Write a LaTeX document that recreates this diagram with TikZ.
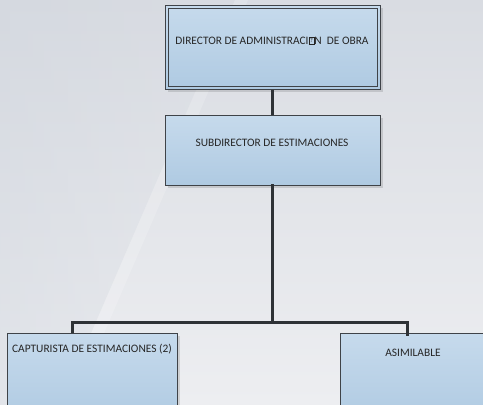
\documentclass[tikz,border=0pt]{standalone}
\usepackage{fontspec}
\setmainfont{Carlito}
\usetikzlibrary{fadings}
\definecolor{bgtop}{HTML}{D9DCE2}
\definecolor{bgbot}{HTML}{EDEEF1}
\definecolor{bgdark}{HTML}{CED4DD}
\definecolor{boxtop}{HTML}{C6DAEC}
\definecolor{boxbot}{HTML}{AFCAE2}
\definecolor{edgegray}{HTML}{3F4348}
\definecolor{linegray}{HTML}{2E3236}
\tikzset{
  orgbox/.style={draw=edgegray, line width=0.8pt, top color=boxtop, bottom color=boxbot,
    rectangle, inner sep=0pt, anchor=north west},
  boxshadow/.style={fill=black, opacity=0.12},
  txt/.style={font=\fontsize{11.4}{13}\selectfont, text=black!85, inner sep=0pt},
  conn/.style={draw=linegray, line width=3pt, line cap=rect},
}
% framed question mark standing on the baseline, for the character the font could not show
\newcommand{\boxq}{\leavevmode\hbox{\vrule width 0.4pt\vbox{\hrule height 0.4pt
  \hbox to 5pt{\hss\vbox to 7pt{\vss\hbox{\fontsize{6}{6}\selectfont ?}\vss}\hss}%
  \hrule height 0.4pt}\vrule width 0.4pt}}
\begin{document}
\begin{tikzpicture}[x=1pt,y=-1pt]
  \useasboundingbox (0,0) rectangle (483,405);
  \clip (0,0) rectangle (483,405);
  % background
  \shade[top color=bgtop, bottom color=bgbot] (0,0) rectangle (483,405);
  \fill[bgdark, opacity=0.35, path fading=east] (0,0) -- (235,0) -- (60,405) -- (0,405) -- cycle;
  \fill[white, opacity=0.18] (235,0) -- (248,0) -- (73,405) -- (60,405) -- cycle;

  % shadows
  \fill[boxshadow] (168,8) rectangle (383,92);
  \fill[boxshadow] (168,118) rectangle (383,188);
  \fill[boxshadow] (10,336) rectangle (180,410);
  \fill[boxshadow] (343,336) rectangle (490,410);

  % boxes
  \node[orgbox, minimum width=215pt, minimum height=84pt] (dir) at (165,5) {};
  \draw[edgegray, line width=0.8pt] ([xshift=3pt,yshift=-3pt]dir.north west) rectangle ([xshift=-3pt,yshift=3pt]dir.south east);
  \node[orgbox, minimum width=215pt, minimum height=70pt] (sub) at (165,115) {};
  \node[orgbox, minimum width=170pt, minimum height=90pt] (cap) at (7,333) {};
  \node[orgbox, minimum width=160pt, minimum height=90pt] (asi) at (340,333) {};

  % labels
  \node[txt] (tdir) at (272,41) {DIRECTOR DE ADMINISTRACI\boxq N\ \ DE OBRA};
  \node[txt] (tsub) at (272,143) {SUBDIRECTOR DE ESTIMACIONES};
  \node[txt] (tcap) at (92,349) {CAPTURISTA DE ESTIMACIONES (2)};
  \node[txt] (tasi) at (413,353) {ASIMILABLE};

  % connectors
  \coordinate (jn) at (273,322);
  \coordinate (capin) at (72,333);
  \coordinate (asiin) at (407,336);
  \draw[conn, line cap=butt] (dir.south) -- (sub.north);
  \draw[conn] (sub.south) -- (sub.south |- jn);
  \draw[conn, line cap=butt] (capin) |- (jn) -| (asiin);
\end{tikzpicture}
\end{document}
